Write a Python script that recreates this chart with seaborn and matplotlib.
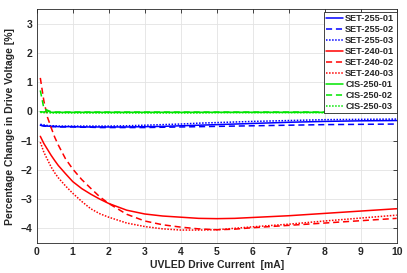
import numpy as np
import pandas as pd
import matplotlib
matplotlib.use("Agg")
import matplotlib.pyplot as plt
import seaborn as sns

# data (current in mA, change in %)
current = [0.1, 0.2, 0.3, 0.4, 0.5, 0.6, 0.8, 1.0, 1.25, 1.5, 1.75, 2.0,
           2.5, 3.0, 3.5, 4.0, 4.5, 5.0, 5.5, 6.0, 7.0, 8.0, 9.0, 10.0]

set255_01 = [-0.47, -0.49, -0.50, -0.51, -0.51, -0.52, -0.52, -0.52, -0.53, -0.53, -0.53, -0.53,
             -0.53, -0.52, -0.51, -0.49, -0.47, -0.45, -0.43, -0.41, -0.37, -0.34, -0.32, -0.31]
set255_02 = [-0.47, -0.50, -0.51, -0.52, -0.52, -0.53, -0.53, -0.53, -0.54, -0.54, -0.55, -0.55,
             -0.55, -0.55, -0.54, -0.53, -0.52, -0.51, -0.50, -0.49, -0.47, -0.45, -0.44, -0.43]
set255_03 = [-0.44, -0.46, -0.48, -0.49, -0.49, -0.50, -0.50, -0.50, -0.50, -0.50, -0.50, -0.50,
             -0.49, -0.47, -0.45, -0.43, -0.40, -0.38, -0.36, -0.34, -0.31, -0.28, -0.27, -0.26]
set240_01 = [-0.85, -1.10, -1.30, -1.50, -1.68, -1.85, -2.13, -2.40, -2.64, -2.83, -3.00, -3.15,
             -3.38, -3.51, -3.58, -3.62, -3.66, -3.67, -3.66, -3.63, -3.57, -3.49, -3.41, -3.33]
set240_02 = [1.15, 0.35, -0.20, -0.55, -0.88, -1.15, -1.62, -1.97, -2.33, -2.63, -2.92, -3.15,
             -3.52, -3.75, -3.88, -3.96, -4.02, -4.05, -4.03, -3.98, -3.90, -3.82, -3.74, -3.66]
set240_03 = [-1.05, -1.40, -1.65, -1.90, -2.10, -2.27, -2.55, -2.80, -3.08, -3.33, -3.50, -3.62,
             -3.82, -3.94, -4.02, -4.06, -4.06, -4.05, -4.00, -3.95, -3.86, -3.75, -3.65, -3.55]
cis250_01 = [-0.01, -0.02, 0.02, -0.03, -0.03, -0.03, -0.03, -0.03, -0.03, -0.03, -0.03, -0.03,
             -0.03, -0.03, -0.03, -0.03, -0.03, -0.03, -0.03, -0.03, -0.03, -0.03, -0.03, -0.02]
cis250_02 = [0.72, 0.10, 0.04, -0.01, -0.02, -0.02, -0.02, -0.02, -0.02, -0.02, -0.02, -0.02,
             -0.02, -0.02, -0.02, -0.02, -0.02, -0.02, -0.02, -0.02, -0.02, -0.02, -0.02, -0.02]
cis250_03 = [-0.03, -0.04, -0.04, -0.05, -0.05, -0.05, -0.05, -0.05, -0.05, -0.05, -0.05, -0.05,
             -0.05, -0.05, -0.05, -0.05, -0.05, -0.04, -0.04, -0.04, -0.04, -0.04, -0.04, -0.04]

names = ["SET-255-01", "SET-255-02", "SET-255-03",
         "SET-240-01", "SET-240-02", "SET-240-03",
         "CIS-250-01", "CIS-250-02", "CIS-250-03"]
series = [set255_01, set255_02, set255_03,
          set240_01, set240_02, set240_03,
          cis250_01, cis250_02, cis250_03]
colors = ["#0000ff"] * 3 + ["#ff0000"] * 3 + ["#00e600"] * 3
styles = ["-", (0, (4, 2.5)), (0, (1, 1))] * 3

sns.set_theme(style="white")
plt.rcParams['font.family'] = ['Liberation Sans', 'DejaVu Sans']

fig = plt.figure(figsize=(4.07, 2.73), dpi=100)
ax = fig.add_axes([0.0902, 0.1103, 0.8845, 0.8557])

for name, vals, col, ls in zip(names, series, colors, styles):
    sns.lineplot(x=current, y=vals, ax=ax, color=col, linestyle=ls,
                 linewidth=1.1, label=name)

ax.set_xlim(0, 10)
ax.set_ylim(-4.5, 3.5)
ax.set_xticks(range(0, 11))
ax.set_yticks(range(-4, 4))
ax.grid(True, color="#e3e3e3", linewidth=0.6)
ax.set_axisbelow(True)
for sp in ax.spines.values():
    sp.set_color("#262626")
    sp.set_linewidth(0.6)
ax.tick_params(direction="in", top=True, right=True, length=3, width=0.6,
               color="#262626", labelsize=7.5, pad=3)
for lab in ax.get_xticklabels() + ax.get_yticklabels():
    lab.set_fontweight("bold")

ax.set_xlabel("UVLED Drive Current  [mA]", fontsize=7.5, fontweight="bold", labelpad=2)
ax.set_ylabel("Percentage Change in Drive Voltage [%]", fontsize=7.5, fontweight="bold", labelpad=4)

leg = ax.legend(loc="upper right", bbox_to_anchor=(1.0, 0.99),
                prop={"weight": "bold", "size": 6.6}, frameon=True, fancybox=False,
                handlelength=1.8, handletextpad=0.3, labelspacing=0.22,
                borderpad=0.25, borderaxespad=0.0)
leg.get_frame().set_edgecolor("#262626")
leg.get_frame().set_linewidth(0.6)
leg.get_frame().set_alpha(1.0)

fig.savefig("out.png", dpi=100)
